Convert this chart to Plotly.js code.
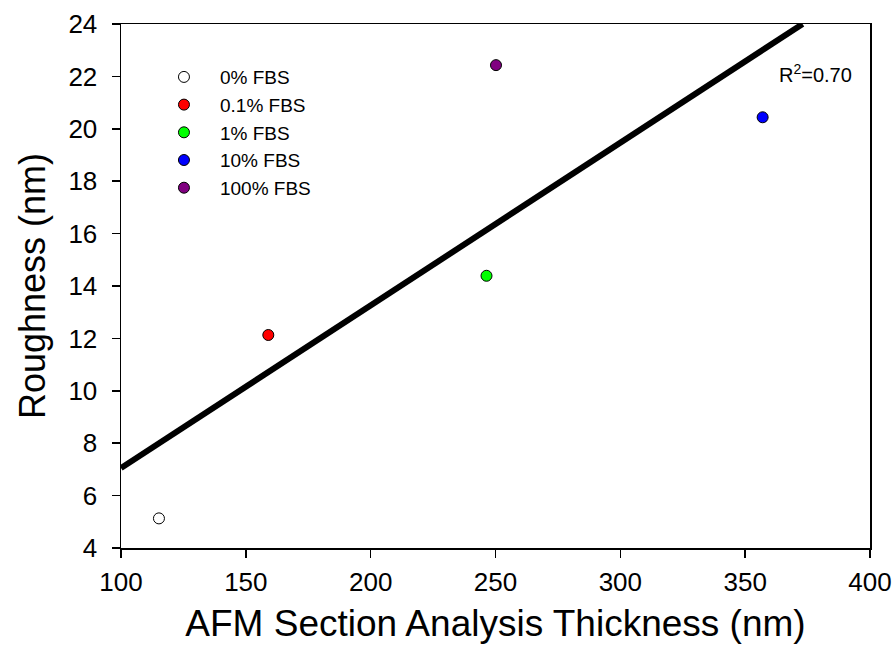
<!DOCTYPE html>
<html>
<head>
<meta charset="utf-8">
<script src="https://cdn.plot.ly/plotly-3.0.1.min.js"></script>
<style>html,body{margin:0;padding:0;background:#fff;}#chart{width:895px;height:658px;}</style>
</head>
<body>
<div id="chart"></div>
<script>
// Data
const seriesNames = ["0% FBS", "0.1% FBS", "1% FBS", "10% FBS", "100% FBS"];
const thicknessNm = [115.2, 159.0, 246.4, 357.0, 250.2];
const roughnessNm = [5.13, 12.13, 14.39, 20.44, 22.43];
const seriesColors = ["#ffffff", "#ff0000", "#00ff00", "#0000ff", "#800080"];
const fitX = [100, 373];
const fitY = [7.05, 24.0];
const r2Label = "R<sup>2</sup>=0.70";
const xTicks = [100, 150, 200, 250, 300, 350, 400];
const yTicks = [4, 6, 8, 10, 12, 14, 16, 18, 20, 22, 24];

const FONT = "Liberation Sans, Arial, sans-serif";

const traces = [{
  x: fitX, y: fitY, mode: "lines", type: "scatter",
  line: {color: "#000", width: 6}, showlegend: false, hoverinfo: "skip"
}];
seriesNames.forEach((name, i) => {
  traces.push({
    x: [thicknessNm[i]], y: [roughnessNm[i]], name: name,
    mode: "markers", type: "scatter",
    marker: {size: 11, color: seriesColors[i], line: {color: "#000", width: 1}}
  });
});

const layout = {
  width: 895, height: 658,
  margin: {l: 121, r: 25, t: 24, b: 110},
  paper_bgcolor: "#fff", plot_bgcolor: "#fff",
  font: {family: FONT, color: "#000"},
  showlegend: true,
  legend: {
    x: 0.036, y: 0.935, xanchor: "left", yanchor: "top",
    font: {size: 19, family: FONT, color: "#000"},
    bgcolor: "rgba(0,0,0,0)", borderwidth: 0, itemwidth: 62
  },
  xaxis: {
    range: [100, 400], tickvals: xTicks, ticktext: xTicks.map(String),
    showgrid: false, zeroline: false,
    showline: true, linecolor: "#000", linewidth: 1.5, mirror: true,
    ticks: "outside", ticklen: 8, tickwidth: 1.5, tickcolor: "#000",
    tickfont: {size: 26, family: FONT}, ticklabelstandoff: 2,
    title: {text: "AFM Section Analysis Thickness (nm)", font: {size: 37, family: FONT}, standoff: 14}
  },
  yaxis: {
    range: [4, 24], tickvals: yTicks, ticktext: yTicks.map(String),
    showgrid: false, zeroline: false,
    showline: true, linecolor: "#000", linewidth: 1.5, mirror: true,
    ticks: "outside", ticklen: 8, tickwidth: 1.5, tickcolor: "#000",
    tickfont: {size: 26, family: FONT}, ticklabelstandoff: 9,
    title: {text: "Roughness (nm)", font: {size: 36, family: FONT}, standoff: 12}
  },
  annotations: [{
    text: r2Label, xref: "x", yref: "y", x: 393.5, y: 22.1,
    xanchor: "right", yanchor: "middle", showarrow: false,
    font: {size: 20, family: FONT, color: "#000"}
  }]
};

Plotly.newPlot("chart", traces, layout, {staticPlot: true, displayModeBar: false});
</script>
</body>
</html>
